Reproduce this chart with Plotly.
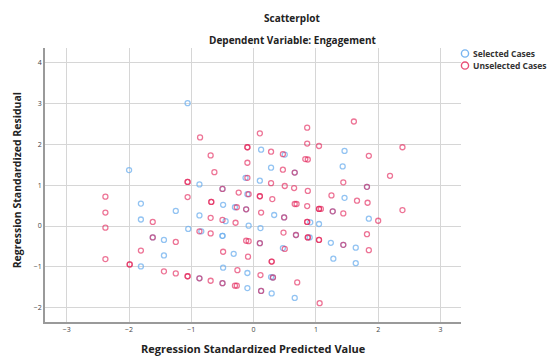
import plotly.graph_objects as go

# Selected cases (blue)
sel_x = [-1.06, 0.12, 0.28, -2.00, -0.13, 0.10, -0.87, -0.10, 1.82, 0.50, 1.46, 1.43, 0.66, 1.46,
         -1.81, -0.49, -0.30, -0.12, -1.25, -0.87, -1.81, -0.45, -1.05, -0.08, 0.11, -0.84, -0.50, -0.50,
         -1.44, -0.32, -1.44, -1.81, -0.49, -0.10, -0.10, 0.29, 0.33, 1.27, 0.91, 1.05, 1.85, 0.49,
         0.90, 1.24, 1.64, 0.47, 1.28, 1.64, 0.28, 0.66, 0.68, 1.44, -0.50, -1.62, -0.87, -0.50,
         0.12, 0.10, 0.31]
sel_y = [3.01, 1.87, 1.43, 1.37, 1.18, 1.11, 1.02, 0.78, 0.96, 1.75, 1.84, 1.46, 1.31, 0.69,
         0.55, 0.52, 0.46, 0.41, 0.37, 0.26, 0.16, 0.12, -0.07, 0.01, -0.05, -0.13, -0.24, -0.24,
         -0.34, -0.68, -0.72, -0.99, -1.02, -1.15, -1.52, -1.65, 0.27, 0.36, 0.09, 0.05, 0.18, 0.21,
         -0.28, -0.41, -0.53, -0.54, -0.80, -0.91, -1.25, -1.76, -0.22, -0.46, 0.91, -0.28, -1.28, -1.40,
         -1.59, -0.42, -1.26]

# Unselected cases (red)
uns_x = [-0.86, 0.10, -0.10, -0.10, 0.28, -0.69, -0.10, -0.63, -0.10, 0.28, -1.06, -1.06, -0.50,
         -2.38, -1.06, -0.24, -0.08, 0.10, 0.10, 0.30, -0.68, -0.68, -0.27, -0.12, 0.12, -2.38,
         -0.69, -1.62, -0.50, -0.29, -2.38, -0.87, -0.69, -1.62, -1.25, -0.12, -0.08, 0.10, -1.81,
         -0.49, -0.09, -2.38, -1.99, -1.99, 0.29, 0.29, -0.26, 0.11, -1.44, -1.25, -1.06, -1.06,
         -0.87, -0.69, -0.50, -0.30, -0.27, 0.12, 0.50, 0.65, 0.87, 1.44, 1.82, 1.25, 1.66, 1.83,
         0.66, 0.69, 0.86, 1.05, 1.05, 1.08, 1.27, 1.44, 2.39, 0.49, 0.86, 0.86, 2.00, 0.48, 0.68,
         0.87, 0.87, 1.05, 1.05, 1.44, 1.82, 1.85, 0.50, 0.31, 0.70, 1.06, 0.47, 0.86, 0.86, 1.05,
         1.61, 1.85, 2.39, 0.47, 0.66, 0.83, 0.87, 2.19]
uns_y = [2.17, 2.27, 1.93, 1.93, 1.82, 1.73, 1.55, 1.32, 1.18, 1.05, 1.08, 1.08, 0.91,
         0.72, 0.71, 0.82, 0.78, 0.73, 0.73, 0.66, 0.59, 0.59, 0.46, 0.41, 0.33, 0.33,
         0.20, 0.10, 0.15, 0.08, -0.04, -0.13, -0.18, -0.28, -0.39, -0.36, -0.37, -0.42, -0.60,
         -0.63, -0.75, -0.81, -0.94, -0.94, -0.87, -0.87, -1.08, -1.20, -1.11, -1.16, -1.23, -1.23,
         -1.28, -1.34, -1.40, -1.46, -1.46, -1.59, 0.98, 0.93, 0.86, 1.07, 0.96, 0.75, 0.62, 0.57,
         0.54, 0.54, 0.49, 0.42, 0.42, 0.42, 0.36, 0.31, 0.39, 0.21, 0.10, 0.10, 0.13, -0.16, -0.22,
         -0.28, -0.28, -0.34, -0.34, -0.46, -0.20, -0.59, -0.56, -1.26, -1.38, -1.89, 1.76, 2.41, 2.02, 1.96,
         2.56, 1.72, 1.93, 1.38, 1.31, 1.64, 1.63, 1.23]

x_ticks = [-3, -2, -1, 0, 1, 2, 3]
y_ticks = [-2, -1, 0, 1, 2, 3, 4]
legend_names = ["Selected Cases", "Unselected Cases"]

BLUE = "rgba(110,175,238,0.75)"
RED = "rgba(226,30,85,0.62)"
LEG_COLORS = ["rgb(120,180,240)", "rgb(232,80,120)"]
FONT = "Open Sans"

fig = go.Figure()
fig.add_trace(go.Scatter(x=sel_x, y=sel_y, mode="markers", name=legend_names[0],
                         marker=dict(symbol="circle-open", size=5, color=BLUE, line=dict(width=1.3, color=BLUE)),
                         showlegend=False))
fig.add_trace(go.Scatter(x=uns_x, y=uns_y, mode="markers", name=legend_names[1],
                         marker=dict(symbol="circle-open", size=5, color=RED, line=dict(width=1.3, color=RED)),
                         showlegend=False))

# compact legend (marker ring + label), positioned in paper coordinates
shapes = []
leg_annos = []
leg_y = [0.980, 0.936]
for name, col, ly in zip(legend_names, LEG_COLORS, leg_y):
    shapes.append(dict(type="circle", xref="paper", yref="paper", xsizemode="pixel", ysizemode="pixel",
                       xanchor=1.0096, yanchor=ly, x0=-3.6, x1=3.6, y0=-3.6, y1=3.6,
                       line=dict(color=col, width=1.4), fillcolor="rgba(0,0,0,0)"))
    leg_annos.append(dict(text="<b>" + name + "</b>", x=1.0265, y=ly, xref="paper", yref="paper",
                          xanchor="left", yanchor="middle", showarrow=False, borderpad=0,
                          font=dict(size=8.5, family=FONT, color="#333")))

def center_anno(text, x, y, size, angle=0):
    return dict(text="<b>" + text + "</b>", x=x, y=y, xref="paper", yref="paper",
                xanchor="center", yanchor="middle", textangle=angle, showarrow=False,
                font=dict(size=size, family=FONT, color="#222"))

fig.update_layout(
    width=553, height=356,
    margin=dict(l=45, r=92, t=48, b=33.5, autoexpand=False),
    paper_bgcolor="white", plot_bgcolor="white",
    font=dict(family=FONT, color="#222"),
    showlegend=False,
    shapes=shapes,
    annotations=[
        center_anno("Scatterplot", 0.594, 1.109, 10),
        center_anno("Dependent Variable: Engagement", 0.594, 1.029, 10),
        center_anno("Regression Standardized Predicted Value", 0.502, -0.0965, 11),
        center_anno("Regression Standardized Residual", -0.0673, 0.517, 10.5, -90),
    ] + leg_annos,
)
fig.update_xaxes(range=[-3.35, 3.33], tickvals=x_ticks, ticktext=[str(v).replace("-", "−") for v in x_ticks],
                 showgrid=True, gridcolor="#d6d6d6", gridwidth=1.3, zeroline=False,
                 showline=True, linecolor="#9a9a9a", linewidth=1.5,
                 tickfont=dict(size=7, color="#444"), ticks="")
fig.update_yaxes(range=[-2.35, 4.36], tickvals=y_ticks, ticktext=[str(v).replace("-", "−") for v in y_ticks],
                 showgrid=True, gridcolor="#d6d6d6", gridwidth=1.3, zeroline=False,
                 showline=True, linecolor="#9a9a9a", linewidth=1.5,
                 tickfont=dict(size=7, color="#444"), ticks="")

fig.write_html("out.html", config={"displayModeBar": False},
               post_script="document.body.style.margin='0';")
